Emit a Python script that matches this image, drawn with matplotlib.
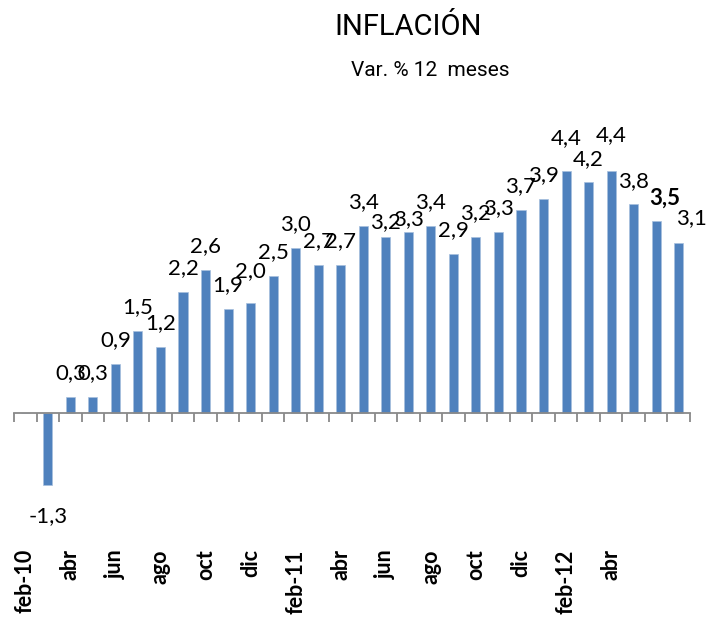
import numpy as np
import matplotlib
matplotlib.use("Agg")
import matplotlib.pyplot as plt
from matplotlib.ticker import FixedLocator

plt.rcParams['font.family'] = ['Lato', 'DejaVu Sans']

# monthly categories feb-10 .. jul-12 (feb-10 has no value)
months = ['feb-10', 'mar', 'abr', 'may', 'jun', 'jul', 'ago', 'sep', 'oct', 'nov', 'dic',
          'ene-11', 'feb-11', 'mar', 'abr', 'may', 'jun', 'jul', 'ago', 'sep', 'oct', 'nov', 'dic',
          'ene-12', 'feb-12', 'mar', 'abr', 'may', 'jun', 'jul']
inflacion = [np.nan, -1.3, 0.3, 0.3, 0.9, 1.5, 1.2, 2.2, 2.6, 1.9, 2.0,
             2.5, 3.0, 2.7, 2.7, 3.4, 3.2, 3.3, 3.4, 2.9, 3.2, 3.3, 3.7,
             3.9, 4.4, 4.2, 4.4, 3.8, 3.5, 3.1]
tick_labels = ['feb-10', 'abr', 'jun', 'ago', 'oct', 'dic', 'feb-11', 'abr',
               'jun', 'ago', 'oct', 'dic', 'feb-12', 'abr']
bold_label = 28  # index of the highlighted value (jun-12)

# manual nudges of some data labels (dx, dy in points), like moved Excel labels
nudges = {10: (0, 6), 16: (0, -6), 17: (0, -8), 24: (0, 7), 26: (0, 9),
          28: (6, -1), 29: (9, 1)}

fig = plt.figure(figsize=(7.19, 6.19), dpi=100)
ax = fig.add_axes([14 / 719, 74 / 619, 676 / 719, 415 / 619])

x = np.arange(len(months))
vals = np.array(inflacion, dtype=float)
ax.bar(x, np.nan_to_num(vals), width=0.4, color='#4F81BD', edgecolor='#A7BFDE', linewidth=0.5)

for i, v in enumerate(vals):
    if np.isnan(v):
        continue
    dx, dy = nudges.get(i, (0, 0))
    off = 17 if v >= 0 else -23
    ax.annotate(f'{v:.1f}'.replace('.', ','), (i, v), xytext=(dx, off + dy),
                textcoords='offset points', ha='center', va='center',
                fontsize=16, fontweight='bold' if i == bold_label else 'normal',
                annotation_clip=False)

ax.set_xlim(-0.5, len(months) - 0.5)
ax.set_ylim(-2.4, 5.15)

for s in ['top', 'right', 'left']:
    ax.spines[s].set_visible(False)
ax.spines['bottom'].set_position(('data', 0))
ax.spines['bottom'].set_color('#898989')
ax.spines['bottom'].set_linewidth(1.3)
ax.set_yticks([])

ax.set_xticks(x[::2][:len(tick_labels)])
ax.set_xticklabels(tick_labels, rotation=90, fontsize=15.5, fontweight='bold')
ax.tick_params(axis='x', which='major', length=0, pad=98)
ax.xaxis.set_minor_locator(FixedLocator(np.arange(-0.5, len(months), 1.0)))
ax.tick_params(axis='x', which='minor', length=6.5, width=1.3, color='#898989', direction='out')

fig.text(408 / 719, 1 - 27 / 619, 'INFLACIÓN', ha='center', va='center',
         fontsize=21, family=['Roboto', 'DejaVu Sans'])
fig.text(430 / 719, 1 - 71 / 619, 'Var. % 12  meses', ha='center', va='center',
         fontsize=15, family=['Roboto', 'DejaVu Sans'])

fig.savefig('out.png', dpi=100)
